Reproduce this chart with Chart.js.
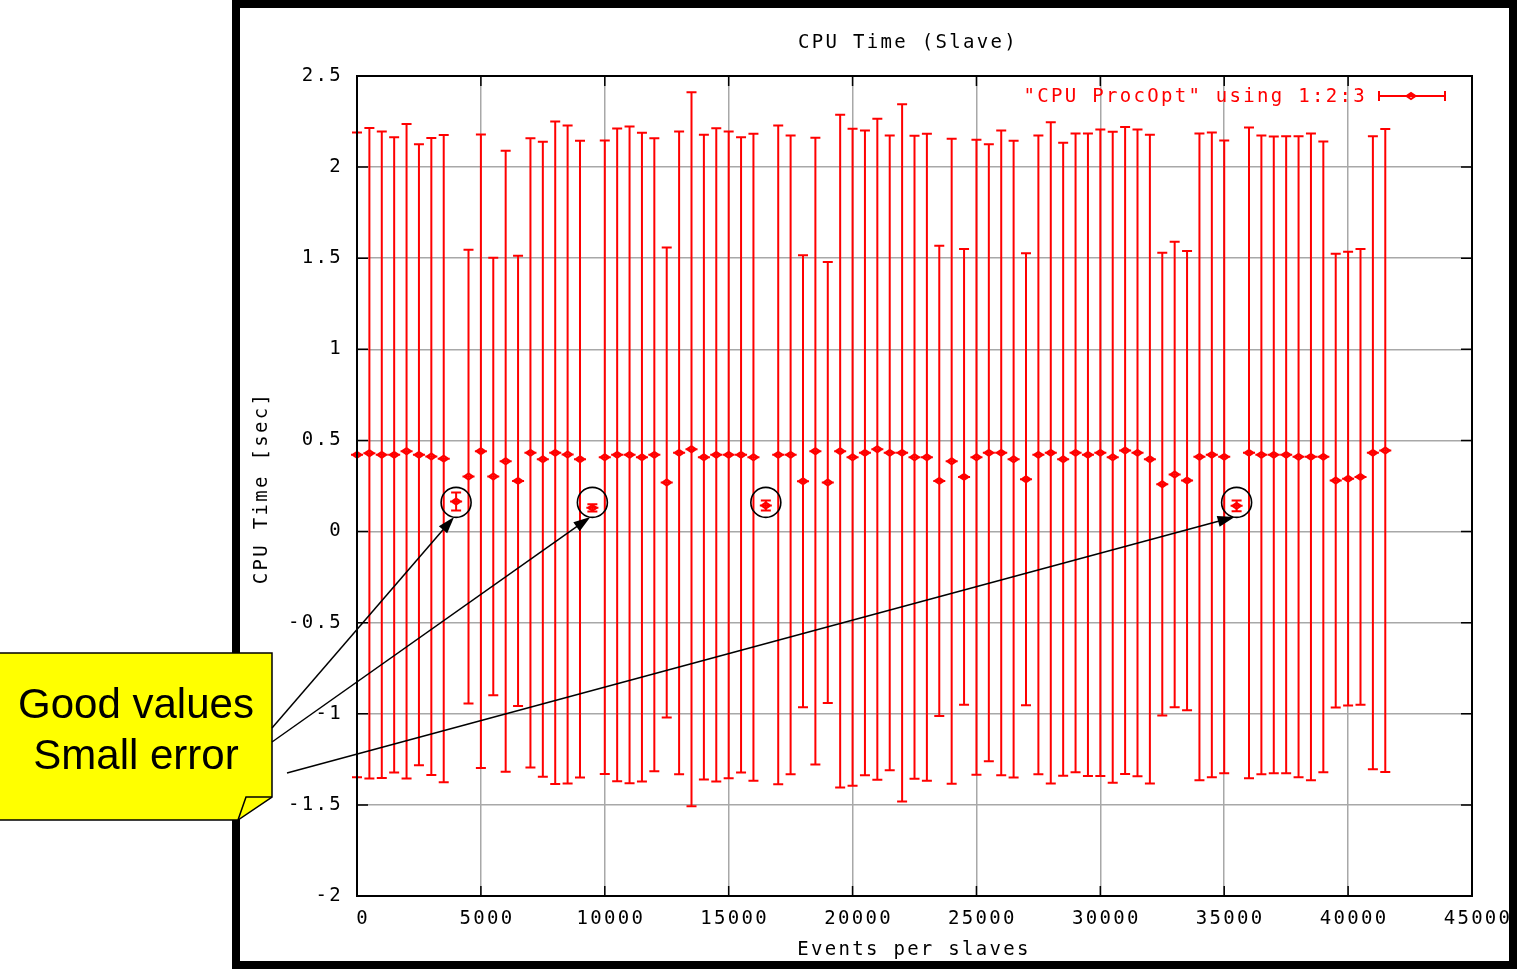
<!DOCTYPE html>
<html>
<head>
<meta charset="utf-8">
<title>CPU Time (Slave)</title>
<script src="https://cdn.jsdelivr.net/npm/chart.js@4.4.1/dist/chart.umd.min.js"></script>
<style>
    html, body { margin: 0; padding: 0; background: #fff; }
    #wrap { position: relative; width: 1517px; height: 969px; overflow: hidden; }
    #grafico { position: absolute; left: 0; top: 0; }
    #nota {
        position: absolute; left: 0; top: 678px; width: 272px;
        font: 42px 'Liberation Sans', Arial, sans-serif; color: #000;
        text-align: center; line-height: 51px; z-index: 2;
    }
</style>
</head>
<body>
<div id="wrap">
    <canvas id="grafico" width="1517" height="969"></canvas>
    <div id="nota">Good values<br>Small error</div>
</div>
<script>
// Eventos por esclavo (eje X)
const eventos = [
    0, 500, 1000, 1500, 2000, 2500, 3000, 3500, 4000, 4500,
    5000, 5500, 6000, 6500, 7000, 7500, 8000, 8500, 9000, 9500,
    10000, 10500, 11000, 11500, 12000, 12500, 13000, 13500, 14000, 14500,
    15000, 15500, 16000, 16500, 17000, 17500, 18000, 18500, 19000, 19500,
    20000, 20500, 21000, 21500, 22000, 22500, 23000, 23500, 24000, 24500,
    25000, 25500, 26000, 26500, 27000, 27500, 28000, 28500, 29000, 29500,
    30000, 30500, 31000, 31500, 32000, 32500, 33000, 33500, 34000, 34500,
    35000, 35500, 36000, 36500, 37000, 37500, 38000, 38500, 39000, 39500,
    40000, 40500, 41000, 41500
];

// Tiempo de CPU medio [sec]
const cpuMedio = [
    0.421, 0.430, 0.421, 0.421, 0.441, 0.421, 0.412, 0.400, 0.165, 0.302,
    0.441, 0.302, 0.386, 0.278, 0.432, 0.397, 0.432, 0.423, 0.397, 0.130,
    0.408, 0.421, 0.421, 0.408, 0.421, 0.269, 0.432, 0.452, 0.408, 0.421,
    0.421, 0.421, 0.408, 0.143, 0.421, 0.421, 0.276, 0.441, 0.269, 0.441,
    0.408, 0.432, 0.452, 0.432, 0.432, 0.408, 0.408, 0.278, 0.386, 0.300,
    0.408, 0.432, 0.432, 0.397, 0.287, 0.421, 0.432, 0.397, 0.432, 0.421,
    0.432, 0.408, 0.445, 0.432, 0.397, 0.260, 0.313, 0.280, 0.410, 0.421,
    0.410, 0.141, 0.432, 0.421, 0.421, 0.421, 0.410, 0.410, 0.410, 0.280,
    0.290, 0.300, 0.432, 0.445
];

// Error (desviación) de cada punto
const cpuError = [
    1.769, 1.785, 1.774, 1.743, 1.796, 1.704, 1.748, 1.776, 0.050, 1.245,
    1.738, 1.200, 1.704, 1.235, 1.727, 1.742, 1.818, 1.806, 1.747, 0.020,
    1.738, 1.791, 1.802, 1.780, 1.737, 1.290, 1.764, 1.959, 1.769, 1.792,
    1.775, 1.743, 1.775, 0.028, 1.808, 1.753, 1.240, 1.720, 1.210, 1.846,
    1.803, 1.769, 1.814, 1.742, 1.913, 1.764, 1.775, 1.290, 1.770, 1.250,
    1.742, 1.693, 1.769, 1.747, 1.240, 1.753, 1.814, 1.737, 1.753, 1.763,
    1.774, 1.786, 1.775, 1.775, 1.780, 1.270, 1.277, 1.260, 1.775, 1.769,
    1.736, 0.030, 1.786, 1.753, 1.747, 1.748, 1.759, 1.775, 1.731, 1.245,
    1.245, 1.250, 1.737, 1.764
];

// Marcas de los ejes
const xTicks = [0, 5000, 10000, 15000, 20000, 25000, 30000, 35000, 40000, 45000];
const yTicks = [-2, -1.5, -1, -0.5, 0, 0.5, 1, 1.5, 2, 2.5];

// Puntos buenos (error pequeño): círculos y flechas
const puntosBuenos = [4000, 9500, 16500, 35500];
const conFlecha = [4000, 9500, 35500];
const origenFlecha = [[272, 728], [272, 742], [287, 773]];
const nivelCirculo = 0.16;

const ROJO = '#ff0000';
const FUENTE = '19px "DejaVu Sans Mono", monospace';
const ESPACIADO = '2.3px';

// Marcador del punto medio (rombo con barra)
function marcador(ctx, px, py) {
    ctx.beginPath();
    ctx.moveTo(px - 6, py); ctx.lineTo(px + 6, py);
    ctx.moveTo(px - 4.5, py); ctx.lineTo(px, py - 3);
    ctx.lineTo(px + 4.5, py); ctx.lineTo(px, py + 3);
    ctx.closePath();
    ctx.stroke();
}

// Barras de error dibujadas con las escalas del gráfico
const errorBars = {
    id: 'errorBars',
    afterDatasetsDraw(chart) {
        const { ctx, scales: { x, y } } = chart;
        ctx.save();
        ctx.strokeStyle = ROJO;
        ctx.lineWidth = 2;
        eventos.forEach((ev, i) => {
            const px = x.getPixelForValue(ev);
            const py = y.getPixelForValue(cpuMedio[i]);
            const top = y.getPixelForValue(cpuMedio[i] + cpuError[i]);
            const bot = y.getPixelForValue(cpuMedio[i] - cpuError[i]);
            ctx.beginPath();
            ctx.moveTo(px, top); ctx.lineTo(px, bot);
            ctx.moveTo(px - 5, top); ctx.lineTo(px + 5, top);
            ctx.moveTo(px - 5, bot); ctx.lineTo(px + 5, bot);
            ctx.stroke();
            marcador(ctx, px, py);
        });
        ctx.restore();
    }
};

function flecha(ctx, x0, y0, x1, y1) {
    const ang = Math.atan2(y1 - y0, x1 - x0);
    const c = Math.cos(ang), s = Math.sin(ang);
    ctx.beginPath();
    ctx.moveTo(x0, y0);
    ctx.lineTo(x1 - 12 * c, y1 - 12 * s);
    ctx.stroke();
    ctx.beginPath();
    ctx.moveTo(x1, y1);
    ctx.lineTo(x1 - 17 * c + 5.5 * s, y1 - 17 * s - 5.5 * c);
    ctx.lineTo(x1 - 17 * c - 5.5 * s, y1 - 17 * s + 5.5 * c);
    ctx.closePath();
    ctx.fill();
}

// Marco, textos, leyenda y anotaciones
const marco = {
    id: 'marco',
    beforeDraw(chart) {
        const ctx = chart.ctx;
        ctx.save();
        ctx.fillStyle = '#fff';
        ctx.fillRect(0, 0, chart.width, chart.height);
        ctx.restore();
        ctx.letterSpacing = ESPACIADO;
    },
    afterDraw(chart) {
        const { ctx, chartArea: a, scales: { x, y } } = chart;
        ctx.save();

        // Borde del área de trazado
        ctx.strokeStyle = '#000';
        ctx.lineWidth = 2;
        ctx.strokeRect(a.left, a.top, a.right - a.left, a.bottom - a.top);

        // Marcas interiores en los cuatro lados
        ctx.lineWidth = 1.5;
        ctx.beginPath();
        xTicks.forEach(v => {
            const px = x.getPixelForValue(v);
            ctx.moveTo(px, a.bottom); ctx.lineTo(px, a.bottom - 10);
            ctx.moveTo(px, a.top); ctx.lineTo(px, a.top + 10);
        });
        yTicks.forEach(v => {
            const py = y.getPixelForValue(v);
            ctx.moveTo(a.left, py); ctx.lineTo(a.left + 11, py);
            ctx.moveTo(a.right, py); ctx.lineTo(a.right - 11, py);
        });
        ctx.stroke();

        // Títulos
        ctx.letterSpacing = ESPACIADO;
        ctx.font = FUENTE;
        ctx.fillStyle = '#000';
        ctx.textAlign = 'center';
        ctx.textBaseline = 'middle';
        ctx.fillText('CPU Time (Slave)', 908, 43);
        ctx.fillText('Events per slaves', 914, 950);
        ctx.save();
        ctx.translate(262, 488);
        ctx.rotate(-Math.PI / 2);
        ctx.fillText('CPU Time [sec]', 0, 0);
        ctx.restore();

        // Leyenda
        ctx.fillStyle = ROJO;
        ctx.strokeStyle = ROJO;
        ctx.textAlign = 'right';
        ctx.fillText('"CPU ProcOpt" using 1:2:3', 1367, 97);
        ctx.lineWidth = 2;
        ctx.beginPath();
        ctx.moveTo(1379, 96); ctx.lineTo(1445, 96);
        ctx.moveTo(1379, 91); ctx.lineTo(1379, 101);
        ctx.moveTo(1445, 91); ctx.lineTo(1445, 101);
        ctx.stroke();
        marcador(ctx, 1411, 96);

        // Marco exterior negro
        ctx.strokeStyle = '#000';
        ctx.lineWidth = 8;
        ctx.strokeRect(236, 4, 1277, 961);

        // Círculos alrededor de los puntos buenos
        const cy = y.getPixelForValue(nivelCirculo);
        ctx.lineWidth = 1.6;
        puntosBuenos.forEach(ev => {
            ctx.beginPath();
            ctx.arc(x.getPixelForValue(ev), cy, 15, 0, Math.PI * 2);
            ctx.stroke();
        });

        // Recuadro de la nota
        ctx.fillStyle = '#ffff00';
        ctx.lineWidth = 1.5;
        ctx.beginPath();
        ctx.moveTo(-2, 653);
        ctx.lineTo(272, 653);
        ctx.lineTo(272, 797);
        ctx.lineTo(238, 820);
        ctx.lineTo(-2, 820);
        ctx.closePath();
        ctx.fill();
        ctx.stroke();
        ctx.beginPath();
        ctx.moveTo(238, 820);
        ctx.lineTo(246, 797);
        ctx.lineTo(272, 797);
        ctx.stroke();

        // Flechas hacia los círculos
        ctx.fillStyle = '#000';
        ctx.lineWidth = 1.5;
        conFlecha.forEach((ev, i) => {
            const [x0, y0] = origenFlecha[i];
            flecha(ctx, x0, y0, x.getPixelForValue(ev) - 2, cy + 14.5);
        });

        ctx.restore();
    }
};

const ejeComun = {
    grid: { color: '#a8a8a8', lineWidth: 1.5, drawTicks: false },
    border: { display: false },
    ticks: {
        color: '#000',
        font: { family: '"DejaVu Sans Mono", monospace', size: 19 },
        autoSkip: false,
        maxRotation: 0,
        callback: v => String(v)
    }
};

new Chart(document.getElementById('grafico'), {
    type: 'scatter',
    data: {
        datasets: [{
            label: '"CPU ProcOpt" using 1:2:3',
            data: eventos.map((ev, i) => ({ x: ev, y: cpuMedio[i] })),
            pointRadius: 0,
            showLine: false
        }]
    },
    options: {
        responsive: false,
        animation: false,
        layout: { padding: { left: 240, top: 76, right: 45, bottom: 0 } },
        plugins: {
            legend: { display: false },
            tooltip: { enabled: false },
            title: { display: false }
        },
        scales: {
            x: {
                ...ejeComun,
                type: 'linear',
                min: 0,
                max: 45000,
                ticks: { ...ejeComun.ticks, padding: 12, labelOffset: 6 },
                afterBuildTicks: s => { s.ticks = xTicks.map(v => ({ value: v })); },
                afterFit: s => { s.height = 73; s.paddingLeft = 0; s.paddingRight = 0; }
            },
            y: {
                ...ejeComun,
                min: -2,
                max: 2.5,
                ticks: { ...ejeComun.ticks, padding: 14 },
                afterBuildTicks: s => { s.ticks = yTicks.map(v => ({ value: v })); },
                afterFit: s => { s.width = 117; s.paddingTop = 0; s.paddingBottom = 0; }
            }
        }
    },
    plugins: [errorBars, marco]
});
</script>
</body>
</html>
